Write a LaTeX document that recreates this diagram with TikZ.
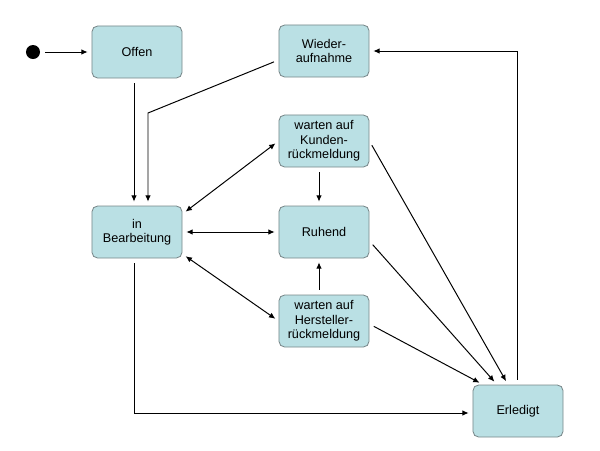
\documentclass[tikz,border=0pt]{standalone}
\usepackage{fontspec}
\setmainfont{Liberation Sans}
\usetikzlibrary{calc,arrows.meta}
\definecolor{zustand}{RGB}{186,224,228}
\definecolor{rand}{RGB}{120,135,137}
\tikzset{
  state/.style={draw=rand, fill=zustand, rounded corners=4pt, line width=0.6pt,
    minimum width=2.25cm, minimum height=1.3cm, align=center, inner sep=2pt,
    font=\fontsize{9}{10.3}\selectfont},
  startdot/.style={circle, fill=black, minimum size=0.35cm, inner sep=0pt},
  conn/.style={line width=0.7pt, -{Latex[length=4.5pt,width=4pt]},
    shorten >=2.8pt, shorten <=3.5pt},
  conn2/.style={conn, {Latex[length=4.5pt,width=4pt]}-{Latex[length=4.5pt,width=4pt]},
    shorten <=2.8pt}
}
\begin{document}
\begin{tikzpicture}[x=0.025cm, y=-0.025cm]
			%%%%% START %%%%%
			\useasboundingbox (0,0) rectangle (600,450);
			
			\node[startdot] (st) at (33,52) {};
			\node[state] (off) at (137,52) {Offen};
			\node[state] (wie) at (324,51) {Wieder-\\aufnahme};
			\node[state] (kun) at (324,141) {warten auf\\Kunden-\\rückmeldung};
			\node[state] (inb) at (137,232) {in\\Bearbeitung};
			\node[state] (ruh) at (324,232) {Ruhend};
			\node[state] (her) at (324,321) {warten auf\\Hersteller-\\rückmeldung};
			\node[state] (erl) at (518,411) {Erledigt};
			
			\coordinate (knick) at (148,113);
			
			\draw[conn] (st) -- (off);
			\draw[conn] ($(off.south)+(-3,0)$) -- ($(inb.north)+(-3,0)$);
			\draw[conn] ($(wie.west)+(0,9)$) -- (knick) -- (knick |- inb.north);
			
			\draw[conn2] ($(inb.east)+(0,-18)$) -- (kun.west);
			\draw[conn2] (inb.east) -- (inb.east -| ruh.west);
			\draw[conn2] ($(inb.east)+(0,22)$) -- (her.west);
			
			\draw[conn] ($(kun.south)+(-5,0)$) -- ($(ruh.north)+(-5,0)$);
			\draw[conn] ($(her.north)+(-5,0)$) -- ($(ruh.south)+(-5,0)$);
			
			\draw[conn] (kun.east) -- ($(erl.north)+(-10,0)$);
			\draw[conn] ($(ruh.east)+(0,9)$) -- ($(erl.north)+(-21,0)$);
			\draw[conn] ($(her.east)+(0,3)$) -- ($(erl.north)+(-35,0)$);
			
			\draw[conn] ($(erl.north)+(-1,0)$) |- (wie.east);
			\draw[conn] ($(inb.south)+(-3,0)$) |- ($(erl.west)+(0,2)$);
			
			%%%%% END %%%%%
\end{tikzpicture}
\end{document}
